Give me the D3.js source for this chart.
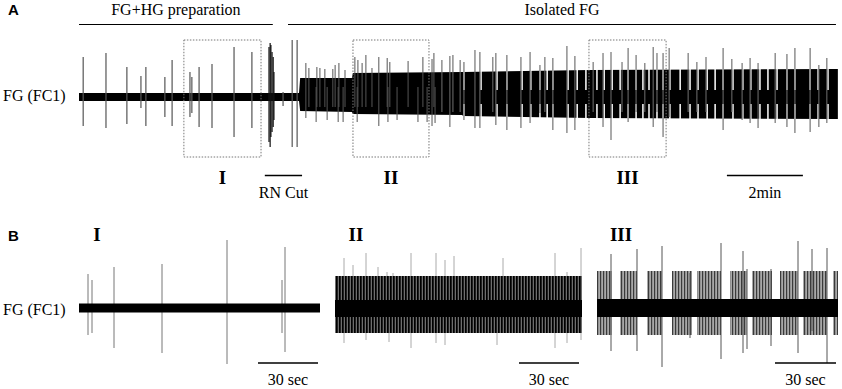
<!DOCTYPE html>
<html lang="en">
<head>
<meta charset="UTF-8">
<title>FG (FC1) recording</title>
<script src="https://d3js.org/d3.v7.min.js"></script>
<style>
  body { margin: 0; background: #fff; }
  svg { display: block; }
  .serif { font-family: "Liberation Serif", "DejaVu Serif", serif; font-size: 16px; fill: #000; }
  .panel { font-family: "Liberation Sans", Arial, sans-serif; font-weight: bold; font-size: 15px; }
  .roman { font-family: "Liberation Serif", serif; font-weight: bold; font-size: 19px; text-anchor: middle; }
</style>
</head>
<body>
<svg width="842" height="389"></svg>
<script>
// ---------- Panel A: whole recording (time in min, amplitude in a.u.) ----------
const envA_t    = [0, 5.79, 5.82, 7.18, 7.21, 10.08, 10.11, 13.45, 19.97];
const envA_up   = [4, 4, 19, 19, 24, 25, 25, 27, 28];
const envA_down = [4, 4, 14, 15, 17, 18, 19, 21, 22];

// [time, up, down]
const spikesA_prep = [
  [0.11, 40, 29], [0.71, 44, 31], [1.26, 30, 27], [1.63, 21, 11], [1.76, 30, 29],
  [2.26, 20, 20], [2.45, 37, 29], [2.92, 25, 20], [2.97, 20, 16], [3.16, 30, 30],
  [3.50, 33, 31], [4.08, 50, 40], [4.55, 45, 31], [5.37, 5, 9], [5.61, 57, 50], [5.74, 57, 50]
];
// artefacts around the root-nerve cut
const spikesA_cut = [[5.00, 50, 45], [5.03, 54, 50], [5.05, 52, 40], [5.08, 45, 35], [5.11, 40, 30], [5.13, 25, 23]];
const spikesA_tonic = [
  [5.97, 34, 21], [6.05, 29, 10], [6.24, 10, 25], [6.26, 30, 10], [6.34, 29, 10],
  [6.47, 28, 10], [6.53, 10, 23], [6.68, 28, 10], [6.74, 32, 10], [6.82, 10, 25],
  [6.84, 34, 10], [6.95, 10, 25], [7.00, 27, 10], [7.26, 40, 10], [7.32, 10, 25],
  [7.34, 37, 10], [7.45, 34, 10], [7.55, 42, 10], [7.71, 29, 10], [7.89, 40, 29],
  [8.11, 39, 10], [8.13, 10, 25], [8.18, 35, 10], [8.37, 10, 23], [8.66, 36, 10],
  [8.92, 10, 25], [9.05, 40, 10], [9.16, 10, 25], [9.29, 38, 29], [9.34, 44, 10], [9.37, 10, 26]
];
const spikesA_burst = [
  [9.55, 37, 15], [9.76, 41, 30], [9.84, 42, 15], [10.03, 37, 15], [10.13, 35, 23],
  [10.42, 47, 31], [10.55, 45, 31], [10.89, 40, 15], [10.97, 44, 28], [11.26, 42, 33],
  [11.63, 40, 31], [11.87, 45, 26], [12.13, 32, 16], [12.26, 40, 15], [12.47, 39, 33],
  [12.84, 51, 36], [13.05, 41, 33], [13.53, 35, 15], [13.79, 44, 30], [14.00, 45, 43],
  [14.29, 35, 15], [14.45, 49, 25], [14.66, 42, 15], [14.89, 34, 15], [15.11, 50, 30],
  [15.21, 44, 15], [15.37, 44, 40], [15.53, 49, 20], [16.03, 44, 15], [16.26, 35, 15],
  [16.50, 40, 15], [16.95, 49, 33], [17.18, 38, 15], [17.45, 34, 23], [17.66, 39, 26],
  [17.87, 34, 31], [18.32, 44, 26], [18.63, 43, 30], [18.84, 49, 36], [19.24, 49, 35],
  [19.47, 32, 30], [19.68, 39, 26]
];
// pauses between bursts (min)
const gapsA = [
  10.13, 10.58, 11.00, 11.26, 11.66, 11.89, 12.13, 12.32, 12.47, 12.87, 13.11, 13.34,
  13.63, 13.82, 14.03, 14.24, 14.45, 14.66, 14.84, 15.00, 15.21, 15.37, 15.55, 15.82,
  16.08, 16.29, 16.53, 16.74, 16.95, 17.21, 17.47, 17.68, 17.92, 18.13, 18.37, 18.63,
  18.84, 19.24, 19.45, 19.71
];
const boxesA = [["I", 2.76, 4.79], ["II", 7.21, 9.21], ["III", 13.42, 15.45]];
const sectionsA = [["FG+HG preparation", 0, 5.1], ["Isolated FG", 5.5, 19.92]];
const rnCut = [4.89, 5.87];
const bar2min = [17.05, 19.05];

// ---------- Panel B: 2-min excerpts (time in s) ----------
const spikesB1 = [[4.5, 34, 27], [6.5, 28, 25], [17.5, 41, 40], [41.5, 44, 45], [74, 68, 56], [101.5, 28, 25], [103, 61, 44]];
const spikesB2 = [
  [4.5, 50, 35], [9, 43, 20], [15.5, 55, 32], [21.5, 41, 20], [26, 36, 20], [27, 20, 34],
  [29, 35, 20], [38, 55, 40], [50.5, 55, 35], [55, 48, 37], [59.5, 52, 20], [81, 20, 37],
  [84, 50, 20], [110, 55, 40], [116, 36, 35], [123, 60, 32]
];
const burstsB3 = [[0, 7.5], [11.5, 20], [25, 32.5], [37.5, 47.5], [50, 62], [66.5, 75], [77.5, 87.5], [91.5, 100.5], [103, 115], [118, 120.5]];
const spikesB3 = [
  [7, 54, 43], [20, 59, 43], [32.5, 62, 59], [46.5, 35, 30], [62, 65, 51], [73, 57, 45],
  [75, 39, 41], [87, 39, 38], [100.5, 67, 45], [107.5, 59, 23], [115, 60, 55]
];

const svg = d3.select("svg");
const defs = svg.append("defs");

function stripes(id, w, bg, fg, fw) {
  const p = defs.append("pattern").attr("id", id)
    .attr("patternUnits", "userSpaceOnUse").attr("width", w).attr("height", 10);
  p.append("rect").attr("width", w).attr("height", 10).attr("fill", bg);
  p.append("rect").attr("width", fw).attr("height", 10).attr("fill", fg);
}
stripes("darkStripes", 3, "#6e6e6e", "#000", 1.7);
stripes("lightStripes", 3, "#a8a8a8", "#3a3a3a", 1.2);

function drawSpikes(g, data, x, y, color, w) {
  g.append("g").selectAll("line").data(data).join("line")
    .attr("x1", d => x(d[0])).attr("x2", d => x(d[0]))
    .attr("y1", d => y(d[1])).attr("y2", d => y(-d[2]))
    .attr("stroke", color).attr("stroke-width", w);
}

function scaleBar(g, x0, x1, y, label) {
  g.append("line").attr("x1", x0).attr("x2", x1).attr("y1", y).attr("y2", y)
    .attr("stroke", "#000").attr("stroke-width", 1.4);
  g.append("text").attr("class", "serif").attr("x", (x0 + x1) / 2).attr("y", y + 22)
    .attr("text-anchor", "middle").text(label);
}

// ===== Panel A =====
const xA = d3.scaleLinear().domain([0, 20]).range([79, 839]);
const yA = d3.scaleLinear().domain([-60, 60]).range([157, 37]);
const gA = svg.append("g");

gA.append("text").attr("class", "panel").attr("x", 8).attr("y", 15).text("A");
gA.append("text").attr("class", "serif").attr("x", 3).attr("y", 101).text("FG (FC1)");

sectionsA.forEach(([label, t0, t1]) => {
  gA.append("line").attr("x1", xA(t0)).attr("x2", xA(t1)).attr("y1", 24.5).attr("y2", 24.5)
    .attr("stroke", "#000").attr("stroke-width", 1.2);
  gA.append("text").attr("class", "serif").attr("x", (xA(t0) + xA(t1)) / 2).attr("y", 15)
    .attr("text-anchor", "middle").text(label);
});

const envA = envA_t.map((t, i) => ({t, up: envA_up[i], down: envA_down[i]}));
gA.append("path").datum(envA)
  .attr("d", d3.area().x(d => xA(d.t)).y0(d => yA(-d.down)).y1(d => yA(d.up)))
  .attr("fill", "#000");

// white pauses in the outer band, core stays
gapsA.forEach(t => {
  gA.append("rect").attr("x", xA(t) - 0.75).attr("width", 1.5)
    .attr("y", yA(32)).attr("height", yA(7) - yA(32)).attr("fill", "#fff");
  gA.append("rect").attr("x", xA(t) - 0.75).attr("width", 1.5)
    .attr("y", yA(-7)).attr("height", yA(-26) - yA(-7)).attr("fill", "#fff");
});

drawSpikes(gA, spikesA_prep, xA, yA, "#555", 1.2);
drawSpikes(gA, spikesA_cut, xA, yA, "#111", 1.2);
drawSpikes(gA, spikesA_tonic, xA, yA, "#555", 1);
drawSpikes(gA, spikesA_burst, xA, yA, "#666", 1.1);

boxesA.forEach(([label, t0, t1]) => {
  gA.append("rect").attr("x", xA(t0)).attr("y", yA(57))
    .attr("width", xA(t1) - xA(t0)).attr("height", yA(-60) - yA(57))
    .attr("fill", "none").attr("stroke", "#777").attr("stroke-width", 1)
    .attr("stroke-dasharray", "1.5,1.5");
  gA.append("text").attr("class", "roman").attr("x", (xA(t0) + xA(t1)) / 2).attr("y", 184).text(label);
});

scaleBar(gA, xA(rnCut[0]), xA(rnCut[1]), 175.5, "RN Cut");
scaleBar(gA, xA(bar2min[0]), xA(bar2min[1]), 175.5, "2min");

// ===== Panel B =====
const yB = d3.scaleLinear().domain([-60, 60]).range([368, 248]);
const xB1 = d3.scaleLinear().domain([0, 120.5]).range([79, 320]);
const xB2 = d3.scaleLinear().domain([0, 123.5]).range([335, 582]);
const xB3 = d3.scaleLinear().domain([0, 120.5]).range([597, 838]);
const gB = svg.append("g");

gB.append("text").attr("class", "panel").attr("x", 8).attr("y", 241).text("B");
gB.append("text").attr("class", "serif").attr("x", 3).attr("y", 315).text("FG (FC1)");
[["I", xB1], ["II", xB2], ["III", xB3]].forEach(([label, x]) => {
  gB.append("text").attr("class", "roman").attr("x", x(0) + 18 + (label.length - 1) * 3).attr("y", 241).text(label);
});

// B I: quiet baseline with isolated spikes
drawSpikes(gB, spikesB1, xB1, yB, "#777", 1);
gB.append("rect").attr("x", xB1(0)).attr("width", xB1(120.5) - xB1(0))
  .attr("y", yB(4.5)).attr("height", yB(-4.5) - yB(4.5)).attr("fill", "#000");

// B II: continuous firing
drawSpikes(gB, spikesB2, xB2, yB, "#aaa", 1);
gB.append("rect").attr("x", xB2(0)).attr("width", xB2(123.5) - xB2(0))
  .attr("y", yB(32)).attr("height", yB(-25) - yB(32)).attr("fill", "url(#darkStripes)");
gB.append("rect").attr("x", xB2(0)).attr("width", xB2(123.5) - xB2(0))
  .attr("y", yB(8)).attr("height", yB(-9) - yB(8)).attr("fill", "#000");

// B III: bursting
gB.selectAll(".burst").data(burstsB3).join("rect")
  .attr("x", d => xB3(d[0])).attr("width", d => xB3(d[1]) - xB3(d[0]))
  .attr("y", yB(37)).attr("height", yB(-27) - yB(37)).attr("fill", "url(#lightStripes)");
drawSpikes(gB, spikesB3, xB3, yB, "#555", 1);
gB.append("rect").attr("x", xB3(0)).attr("width", xB3(120.5) - xB3(0))
  .attr("y", yB(9)).attr("height", yB(-9) - yB(9)).attr("fill", "#000");

scaleBar(gB, xB1(89.5), xB1(119.5), 363, "30 sec");
scaleBar(gB, xB2(92), xB2(122), 363, "30 sec");
scaleBar(gB, xB3(89), xB3(119.5), 363, "30 sec");
</script>
</body>
</html>
